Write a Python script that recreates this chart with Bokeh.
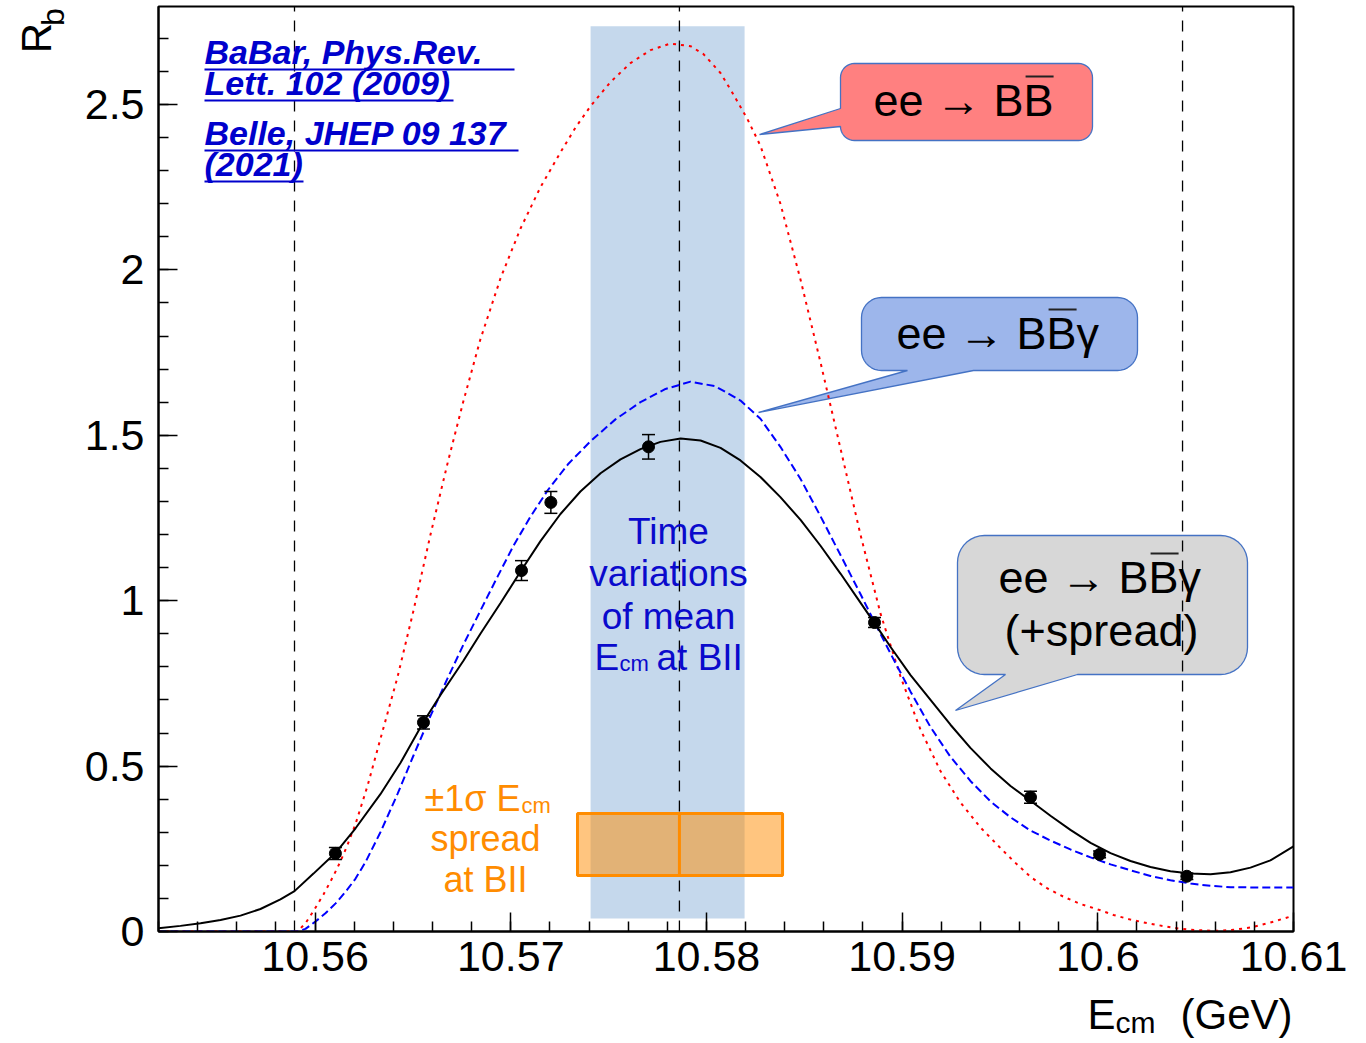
import numpy as np
from bokeh.plotting import figure
from bokeh.layouts import column, row
from bokeh.models import Range1d, FixedTicker, CustomJSTickFormatter
from bokeh.core.properties import value
from bokeh.embed import file_html
from bokeh.resources import INLINE

# ---------------- data ----------------
point_E = [10.56104, 10.56554, 10.57055, 10.57205, 10.57704, 10.58859, 10.59656, 10.60009, 10.60455]
point_R = [0.236, 0.632, 1.091, 1.297, 1.465, 0.934, 0.406, 0.233, 0.167]
point_err = [0.018, 0.020, 0.030, 0.033, 0.037, 0.015, 0.018, 0.010, 0.010]

# ee -> BB gamma (+spread), black solid
spread_E = [10.55200, 10.55312, 10.55415, 10.55517, 10.55619, 10.55721, 10.55823, 10.55895, 10.55992,
            10.56105, 10.56207, 10.56334, 10.56437, 10.56554, 10.56641, 10.56759, 10.56845, 10.56948,
            10.57050, 10.57152, 10.57254, 10.57356, 10.57459, 10.57561, 10.57663, 10.57765, 10.57868,
            10.57970, 10.58072, 10.58174, 10.58276, 10.58378, 10.58481, 10.58583, 10.58685, 10.58787,
            10.58859, 10.58941, 10.59043, 10.59145, 10.59247, 10.59349, 10.59452, 10.59554, 10.59656,
            10.59758, 10.59860, 10.59963, 10.60065, 10.60167, 10.60269, 10.60371, 10.60474, 10.60576,
            10.60678, 10.60780, 10.60882, 10.61000]
spread_R = [0.010, 0.017, 0.025, 0.035, 0.048, 0.068, 0.097, 0.122, 0.175,
            0.238, 0.312, 0.415, 0.510, 0.633, 0.715, 0.819, 0.900, 0.993,
            1.088, 1.180, 1.262, 1.330, 1.385, 1.427, 1.458, 1.480, 1.490,
            1.484, 1.462, 1.424, 1.374, 1.313, 1.244, 1.166, 1.082, 0.994,
            0.932, 0.860, 0.775, 0.700, 0.625, 0.555, 0.493, 0.440, 0.395,
            0.350, 0.307, 0.268, 0.237, 0.213, 0.195, 0.182, 0.175, 0.173,
            0.179, 0.193, 0.215, 0.257]

# ee -> BB gamma, blue dashed
bbg_E = [10.55200, 10.55910, 10.55951, 10.56002, 10.56053, 10.56105, 10.56156, 10.56207, 10.56258,
         10.56334, 10.56421, 10.56503, 10.56590, 10.56677, 10.56759, 10.56845, 10.56932, 10.57014,
         10.57101, 10.57188, 10.57295, 10.57408, 10.57535, 10.57663, 10.57791, 10.57919, 10.58046,
         10.58174, 10.58276, 10.58378, 10.58481, 10.58583, 10.58685, 10.58787, 10.58859, 10.58941,
         10.59043, 10.59145, 10.59247, 10.59349, 10.59452, 10.59554, 10.59656, 10.59758, 10.59860,
         10.59963, 10.60065, 10.60167, 10.60269, 10.60371, 10.60474, 10.60576, 10.60678, 10.60831,
         10.61000]
bbg_R = [0.0, 0.0, 0.008, 0.030, 0.055, 0.085, 0.120, 0.160, 0.210,
         0.300, 0.415, 0.532, 0.652, 0.765, 0.868, 0.970, 1.072, 1.166,
         1.254, 1.333, 1.414, 1.482, 1.548, 1.600, 1.640, 1.662, 1.648,
         1.605, 1.550, 1.465, 1.368, 1.255, 1.138, 1.020, 0.935, 0.840,
         0.725, 0.618, 0.528, 0.455, 0.393, 0.345, 0.305, 0.275, 0.248,
         0.224, 0.203, 0.185, 0.168, 0.155, 0.145, 0.138, 0.134, 0.133,
         0.133]

# ee -> BB, red dotted
bb_E = [10.55200, 10.55910, 10.55951, 10.55992, 10.56043, 10.56094, 10.56130, 10.56166, 10.56207,
        10.56268, 10.56334, 10.56421, 10.56503, 10.56590, 10.56677, 10.56759, 10.56845, 10.56948,
        10.57050, 10.57152, 10.57254, 10.57331, 10.57408, 10.57510, 10.57612, 10.57714, 10.57816,
        10.57919, 10.57985, 10.58072, 10.58138, 10.58210, 10.58276, 10.58378, 10.58481, 10.58583,
        10.58685, 10.58787, 10.58890, 10.58992, 10.59094, 10.59196, 10.59298, 10.59401, 10.59503,
        10.59569, 10.59656, 10.59743, 10.59825, 10.59912, 10.60014, 10.60080, 10.60167, 10.60254,
        10.60387, 10.60474, 10.60591, 10.60678, 10.60780, 10.60882, 10.61000]
bb_R = [0.0, 0.0, 0.025, 0.062, 0.112, 0.168, 0.212, 0.262, 0.325,
        0.440, 0.582, 0.768, 0.970, 1.200, 1.415, 1.605, 1.790, 1.975,
        2.125, 2.250, 2.355, 2.430, 2.495, 2.568, 2.625, 2.664, 2.684,
        2.676, 2.652, 2.595, 2.530, 2.455, 2.375, 2.200, 1.970, 1.720,
        1.460, 1.200, 0.960, 0.770, 0.610, 0.485, 0.390, 0.314, 0.252,
        0.213, 0.165, 0.130, 0.105, 0.083, 0.064, 0.050, 0.036, 0.025,
        0.011, 0.005, 0.002, 0.004, 0.012, 0.027, 0.048]

threshold_E = [10.55895, 10.57862, 10.60433]
mean_var_E = [10.57408, 10.58195]
mean_var_R = [0.039, 2.736]
spread_box_E = [10.57341, 10.58389]
spread_box_R = [0.169, 0.357]
spread_center_E = 10.57862

x_ticks = [10.56, 10.57, 10.58, 10.59, 10.6, 10.61]
x_tick_labels = ["10.56", "10.57", "10.58", "10.59", "10.6", "10.61"]
y_ticks = [0, 0.5, 1, 1.5, 2, 2.5]
y_tick_labels = ["0", "0.5", "1", "1.5", "2", "2.5"]

# ---------------- layout geometry (page pixels) ----------------
TOTAL_W = 1362
LW = 70          # left strip (y title)
MH = 990         # main figure height
BH = 50          # bottom strip (x title)
X0, X1 = 10.552, 10.61
Y0, Y1 = 0.0, 2.796
FL, FR, FT, FB = 158, 1293, 6, 931
BASE = 0.39      # alphabetic-baseline correction, in em


def dx(px):
    return X0 + (px - FL) * (X1 - X0) / (FR - FL)


def dy(py):
    return Y0 + (FB - py) * (Y1 - Y0) / (FB - FT)


FONT = value("Liberation Sans")

p = figure(width=TOTAL_W - LW, height=MH, x_range=Range1d(X0, X1), y_range=Range1d(Y0, Y1),
           output_backend="svg", toolbar_location=None,
           min_border_left=FL - LW, min_border_right=TOTAL_W - FR, min_border_top=FT, min_border_bottom=MH - FB)
p.background_fill_color = "white"
p.border_fill_color = "white"
p.grid.visible = False
p.outline_line_color = "black"
p.outline_line_width = 2

p.xaxis.ticker = FixedTicker(ticks=x_ticks, minor_ticks=[round(v, 3) for v in np.arange(10.552, 10.6101, 0.002)])
p.yaxis.ticker = FixedTicker(ticks=y_ticks, minor_ticks=[round(v, 2) for v in np.arange(0, 2.79, 0.1)])
p.xaxis.formatter = CustomJSTickFormatter(args=dict(vals=x_ticks, labs=x_tick_labels), code="""
const i = vals.findIndex(v => Math.abs(v - tick) < 1e-7); return i >= 0 ? labs[i] : '';""")
p.yaxis.formatter = CustomJSTickFormatter(args=dict(vals=y_ticks, labs=y_tick_labels), code="""
const i = vals.findIndex(v => Math.abs(v - tick) < 1e-7); return i >= 0 ? labs[i] : '';""")
for ax in (p.xaxis, p.yaxis):
    ax.major_tick_in = 19
    ax.major_tick_out = 0
    ax.minor_tick_in = 10
    ax.minor_tick_out = 0
    ax.axis_line_width = 2
    ax.major_tick_line_width = 1.5
    ax.minor_tick_line_width = 1.5
    ax.major_label_text_font = "Liberation Sans"
    ax.major_label_text_font_size = "43px"
    ax.major_label_text_color = "black"
p.xaxis.major_label_standoff = 10
p.yaxis.major_label_standoff = 14

# shaded band: time variations of mean Ecm
p.quad(left=[mean_var_E[0]], right=[mean_var_E[1]], bottom=[mean_var_R[0]], top=[mean_var_R[1]],
       fill_color="#c5d8ec", line_color=None)


# speech bubbles
def bubble(x0, y0, x1, y1, r, side, tail):
    def arc(cx, cy, a0, a1):
        return [(cx + r * np.cos(np.radians(a)), cy + r * np.sin(np.radians(a))) for a in np.linspace(a0, a1, 10)]
    pts = arc(x0 + r, y0 + r, 180, 270) + arc(x1 - r, y0 + r, 270, 360) + arc(x1 - r, y1 - r, 0, 90)
    if side == "bottom":
        pts += tail
    pts += arc(x0 + r, y1 - r, 90, 180)
    if side == "left":
        pts += tail
    return [dx(a) for a, b in pts], [dy(b) for a, b in pts]


BORDER = "#4472c4"
xs, ys = bubble(840, 63, 1092, 140, 14, "left", [(840, 126), (759, 134), (840, 108)])
p.patch(xs, ys, fill_color="#ff8080", line_color=BORDER, line_width=1.3)
xs, ys = bubble(861, 297, 1137, 370, 20, "bottom", [(973, 370), (758, 412), (907, 370)])
p.patch(xs, ys, fill_color="#9db6eb", line_color=BORDER, line_width=1.3)
xs, ys = bubble(957, 535, 1247, 674, 27, "bottom", [(1077, 674), (955, 710), (1005, 674)])
p.patch(xs, ys, fill_color="#d7d7d7", line_color=BORDER, line_width=1.3)

# dashed vertical lines
for e in threshold_E:
    p.line([e, e], [Y0, Y1], line_color="black", line_width=1.3, line_dash="11 9")

# spread box
p.quad(left=[spread_box_E[0]], right=[spread_box_E[1]], bottom=[spread_box_R[0]], top=[spread_box_R[1]],
       fill_color="#ff8c00", fill_alpha=0.5, line_color="#ff8c00", line_width=3)
p.line([spread_center_E, spread_center_E], spread_box_R, line_color="#ff8c00", line_width=3)

# curves
p.line(bb_E, bb_R, line_color="#ff0000", line_width=2, line_dash="3 5")
p.line(bbg_E, bbg_R, line_color="#0000ff", line_width=2, line_dash="8 4")
p.line(spread_E, spread_R, line_color="black", line_width=2)

# data points with error bars
lo = [r - e for r, e in zip(point_R, point_err)]
hi = [r + e for r, e in zip(point_R, point_err)]
p.segment(x0=point_E, y0=lo, x1=point_E, y1=hi, line_color="black", line_width=1.5)
p.scatter(point_E, lo, marker="dash", size=13, line_color="black", line_width=1.5)
p.scatter(point_E, hi, marker="dash", size=13, line_color="black", line_width=1.5)
p.scatter(point_E, point_R, marker="circle", size=12, fill_color="black", line_color="black")


def txt(xp, yp, s, size, color="black", align="left", style="normal"):
    p.text(x=[dx(xp)], y=[dy(yp - BASE * size)], text=[s], text_font=FONT, text_font_size=value(f"{size}px"),
           text_color=color, text_align=align, text_baseline="alphabetic", text_font_style=style)


# bubble texts + overlines
FS = 45
em = FS / 1000.0
w_before_B2 = (556 * 2 + 278 + 1000 + 278 + 667) * em
wB = 667 * em


def bubble_text(xl, yb, s):
    txt(xl, yb, s, FS)
    ox0 = xl + w_before_B2 + 2
    ox1 = ox0 + wB - 2
    oy = yb - 42
    p.line([dx(ox0), dx(ox1)], [dy(oy), dy(oy)], line_color="#222222", line_width=2)


bubble_text(873, 118, "ee → BB")
bubble_text(896, 351, "ee → BBγ")
bubble_text(998, 595, "ee → BBγ")
txt(1101, 648, "(+spread)", FS, align="center")

# blue central text
BLUE = "#0a0acc"
txt(668, 545, "Time", 37, BLUE, "center")
txt(668, 587, "variations", 37, BLUE, "center")
txt(668, 630, "of mean", 37, BLUE, "center")
txt(594, 671, "E", 37, BLUE)
txt(619, 672, "cm", 22, BLUE)
txt(656, 671, "at BII", 37, BLUE)

# orange text
ORANGE = "#ff8c00"
txt(520, 812, "±1σ E", 36, ORANGE, "right")
txt(521, 814, "cm", 22, ORANGE)
txt(485, 852, "spread", 36, ORANGE, "center")
txt(485, 893, "at BII", 36, ORANGE, "center")

# references
REF = "#0000cc"
refs = [("BaBar, Phys.Rev. ", 65, 69, 514), ("Lett. 102 (2009)", 96, 100, 453),
        ("Belle, JHEP 09 137 ", 146, 150, 518), ("(2021)", 177, 181, 303)]
for s, yb, yu, xe in refs:
    txt(204, yb, s, 34, REF, style="bold italic")
    p.line([dx(204), dx(xe)], [dy(yu), dy(yu)], line_color=REF, line_width=2)


# ---------------- title strips ----------------
def strip(w, h):
    f = figure(width=w, height=h, x_range=Range1d(0, w), y_range=Range1d(0, h), output_backend="svg",
               toolbar_location=None, min_border=0, x_axis_location=None, y_axis_location=None)
    f.outline_line_color = None
    f.background_fill_color = "white"
    f.border_fill_color = "white"
    f.grid.visible = False
    return f


left = strip(LW, MH)
# rotated: baseline correction acts along +x
left.text(x=[52 - BASE * 42], y=[MH - 50], text=["R"], angle=np.pi / 2, text_font=FONT,
          text_font_size=value("42px"), text_color="black", text_align="left", text_baseline="alphabetic")
left.text(x=[65 - BASE * 32], y=[MH - 21], text=["b"], angle=np.pi / 2, text_font=FONT,
          text_font_size=value("32px"), text_color="black", text_align="left", text_baseline="alphabetic")

bottom = strip(TOTAL_W, BH)
TOP_B = MH  # page y of the bottom strip's top edge


def btxt(xp, yp, s, size):
    bottom.text(x=[xp], y=[TOP_B + BH - (yp - BASE * size)], text=[s], text_font=FONT,
                text_font_size=value(f"{size}px"), text_color="black", text_align="left",
                text_baseline="alphabetic")


btxt(1087, 1030, "E", 42)
btxt(1115, 1034, "cm", 30)
btxt(1180, 1030, "(GeV)", 42)

layout = column(row(left, p), bottom)
open("out.html", "w").write(file_html(layout, INLINE))
